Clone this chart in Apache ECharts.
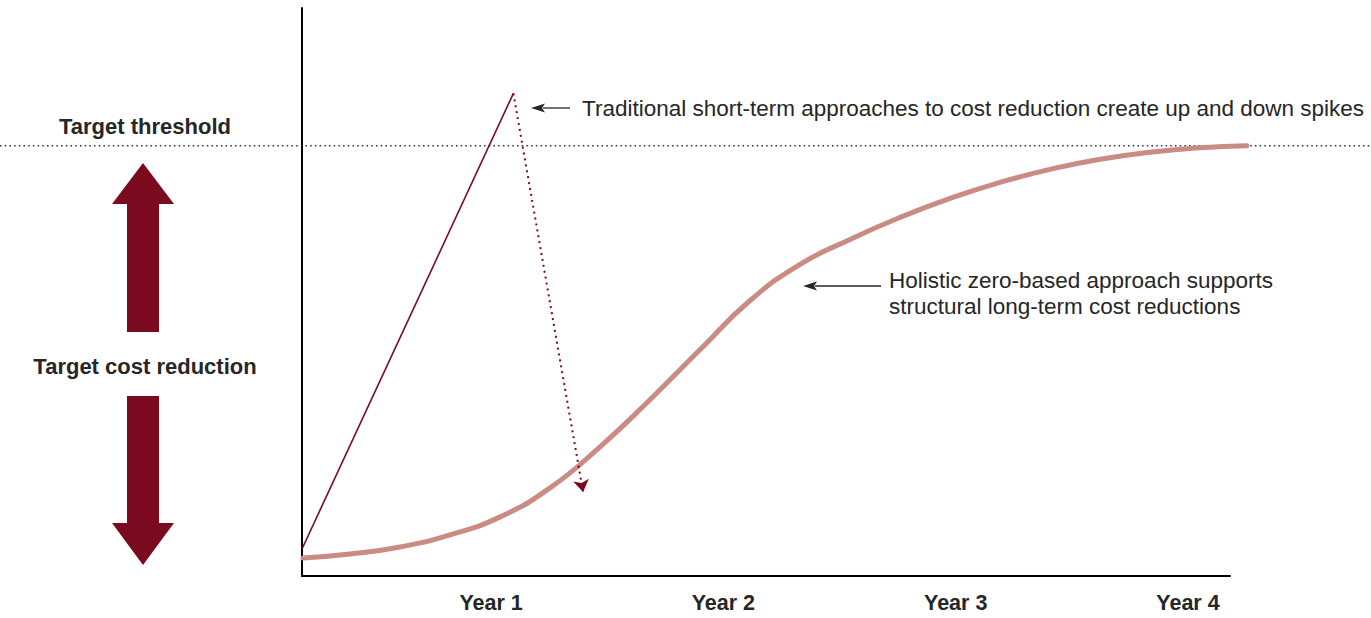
<!DOCTYPE html>
<html>
<head>
<meta charset="utf-8">
<script src="https://cdn.jsdelivr.net/npm/echarts@6/dist/echarts.min.js"></script>
<style>
  html, body { margin: 0; padding: 0; background: #ffffff; }
  #chart { width: 1371px; height: 618px; }
</style>
</head>
<body>
<div id="chart"></div>
<script>
// ---- Data (x in years, y in % of axis height) ----
const yearTicks = [1, 2, 3, 4];
const yearLabels = ['Year 1', 'Year 2', 'Year 3', 'Year 4'];
const xMin = 0.186;
const xMax = 4.181;
const threshold = 75.75;

const holisticX = [0.19, 0.393, 0.608, 0.823, 1.039, 1.254, 1.469, 1.684, 1.900, 2.115, 2.330, 2.545, 2.761, 2.976, 3.191, 3.406, 3.622, 3.837, 4.052, 4.254];
const holisticY = [3.17, 3.88, 5.11, 7.23, 10.41, 15.52, 22.75, 31.04, 39.86, 48.50, 54.85, 59.26, 63.14, 66.49, 69.31, 71.60, 73.37, 74.60, 75.40, 75.75];

const traditionalX = [0.186, 1.096];
const traditionalY = [4.76, 84.96];

const reboundX = [1.096, 1.396];
const reboundY = [84.96, 14.81];

const textThreshold = 'Target threshold';
const textReduction = 'Target cost reduction';
const noteTraditional = 'Traditional short-term approaches to cost reduction create up and down spikes';
const noteHolistic = ['Holistic zero-based approach supports', 'structural long-term cost reductions'];

// ---- Chart ----
const MAROON = '#7b0a1e';
const CURVE = '#c98b82';
const INK = '#262626';
const FONT = '"Liberation Sans", Arial, Helvetica, sans-serif';

const chart = echarts.init(document.getElementById('chart'), null, { renderer: 'svg' });

const holisticData = holisticX.map((x, i) => [x, holisticY[i]]);
const traditionalData = traditionalX.map((x, i) => [x, traditionalY[i]]);

// main plot: 302..1230 px; the holistic curve runs slightly past the axis end,
// so it sits on an invisible twin grid with the same scale extended to the right.
const GL = 302, GR_MAIN = 141, GR_EXT = 119;
const plotW = 1371 - GL - GR_MAIN;
const xMaxExt = xMin + (xMax - xMin) * (1371 - GL - GR_EXT) / plotW;

chart.setOption({
  animation: false,
  backgroundColor: '#ffffff',
  grid: [
    { left: GL, right: GR_MAIN, top: 8, bottom: 42, containLabel: false },
    { left: GL, right: GR_EXT, top: 8, bottom: 42, containLabel: false }
  ],
  xAxis: [{
    gridIndex: 0, type: 'value', min: xMin, max: xMax,
    splitLine: { show: false },
    axisLine: { show: true, onZero: false, lineStyle: { color: '#000', width: 2 } },
    axisTick: { show: false },
    axisLabel: {
      customValues: yearTicks,
      formatter: v => yearLabels[yearTicks.indexOf(Math.round(v))] || '',
      margin: 16, fontSize: 21.5, fontWeight: 'bold', color: INK, fontFamily: FONT
    }
  }, {
    gridIndex: 1, type: 'value', min: xMin, max: xMaxExt, show: false
  }],
  yAxis: [{
    gridIndex: 0, type: 'value', min: 0, max: 100,
    splitLine: { show: false },
    axisLine: { show: true, onZero: false, lineStyle: { color: '#000', width: 2 } },
    axisTick: { show: false },
    axisLabel: { show: false }
  }, {
    gridIndex: 1, type: 'value', min: 0, max: 100, show: false
  }],
  series: [
    {
      type: 'line', xAxisIndex: 1, yAxisIndex: 1, data: holisticData, smooth: 0.5, symbol: 'none', clip: false,
      lineStyle: { color: CURVE, width: 5, cap: 'round', join: 'round' }, z: 3
    },
    {
      type: 'line', data: traditionalData, symbol: 'none', clip: false,
      lineStyle: { color: MAROON, width: 1.6 }, z: 4
    },
    {
      type: 'lines', coordinateSystem: 'cartesian2d',
      symbol: ['none', 'arrow'], symbolSize: 12,
      data: [{ coords: [[reboundX[0], reboundY[0]], [reboundX[1], reboundY[1]]] }],
      lineStyle: { color: MAROON, width: 2, type: [2, 4], opacity: 1 }, z: 5
    }
  ]
});

// ---- Annotations (positioned via the chart's scales) ----
const thrY = chart.convertToPixel({ gridIndex: 0 }, [1, threshold])[1];

function upArrow(cx, tipY, headBaseY, shaftBottom) {
  return [[cx, tipY], [cx + 31, headBaseY], [cx + 16, headBaseY], [cx + 16, shaftBottom],
          [cx - 16, shaftBottom], [cx - 16, headBaseY], [cx - 31, headBaseY]];
}
function downArrow(cx, tipY, headBaseY, shaftTop) {
  return [[cx, tipY], [cx + 31, headBaseY], [cx + 16, headBaseY], [cx + 16, shaftTop],
          [cx - 16, shaftTop], [cx - 16, headBaseY], [cx - 31, headBaseY]];
}
function pointer(tipX, endX, y) {
  return [
    { type: 'line', shape: { x1: tipX + 12, y1: y, x2: endX, y2: y }, style: { stroke: INK, lineWidth: 1.3 } },
    { type: 'polygon', shape: { points: [[tipX, y], [tipX + 14, y - 4.5], [tipX + 11, y], [tipX + 14, y + 4.5]] }, style: { fill: INK } }
  ];
}

const graphics = [
  { type: 'line', shape: { x1: 0, y1: thrY, x2: 1371, y2: thrY },
    style: { stroke: '#333', lineWidth: 1.5, lineDash: [1.5, 3.2] }, z: 1 },
  { type: 'text', style: { text: textThreshold, x: 145, y: thrY - 19, align: 'center', verticalAlign: 'middle',
      font: 'bold 22px ' + FONT, fill: INK } },
  { type: 'text', style: { text: textReduction, x: 145, y: 366, align: 'center', verticalAlign: 'middle',
      font: 'bold 22px ' + FONT, fill: INK } },
  { type: 'polygon', shape: { points: upArrow(143, 163, 204, 332) }, style: { fill: MAROON } },
  { type: 'polygon', shape: { points: downArrow(143, 565, 523, 396) }, style: { fill: MAROON } },
  ...pointer(531, 570, 108),
  { type: 'text', style: { text: noteTraditional, x: 582, y: 108, verticalAlign: 'middle',
      font: '22.5px ' + FONT, fill: INK } },
  ...pointer(803, 881, 286),
  { type: 'text', style: { text: noteHolistic[0], x: 889, y: 280, verticalAlign: 'middle',
      font: '22.5px ' + FONT, fill: INK } },
  { type: 'text', style: { text: noteHolistic[1], x: 889, y: 306, verticalAlign: 'middle',
      font: '22.5px ' + FONT, fill: INK } }
];
chart.setOption({ graphic: graphics });
</script>
</body>
</html>
